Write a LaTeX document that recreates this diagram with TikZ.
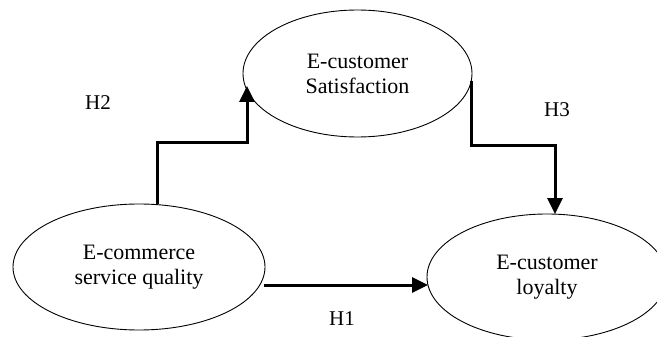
\documentclass[tikz,border=0pt]{standalone}
\usepackage{fontspec}
\setmainfont{Liberation Serif}
\usetikzlibrary{shapes.geometric,arrows.meta,calc}
\begin{document}
\begin{tikzpicture}[x=1pt,y=-1pt,
  construct/.style={draw=black,line width=0.9pt,ellipse,inner sep=0pt,
    align=center,font=\fontsize{22}{25}\selectfont},
  hyp/.style={font=\fontsize{21}{24}\selectfont,inner sep=0pt},
  path arrow/.style={draw=black,line width=3pt,
    -{Triangle[length=16pt,width=15pt]}}]
\useasboundingbox (0,0) rectangle (657,337);
\node[construct,minimum width=229pt,minimum height=127pt] (sat) at (357.5,73.5)
  {E-customer\\Satisfaction};
\node[construct,minimum width=252pt,minimum height=126pt] (sq) at (139,267)
  {E-commerce\\service quality};
\node[construct,minimum width=240pt,minimum height=126pt] (loy) at (547,277)
  {E-customer\\loyalty};
\node[hyp] (h2) at (98,103) {H2};
\node[hyp] (h3) at (557,110) {H3};
\node[hyp] (h1) at (342,319) {H1};
\coordinate (h2s) at ($(sq.north)+(18,0.5)$);
\coordinate (h2a) at (157,143);
\coordinate (h2b) at (247,143);
\coordinate (h2e) at (247,86);
\coordinate (h3s) at (471,81);
\coordinate (h3a) at (471,146);
\coordinate (h3b) at (555,146);
\coordinate (h3e) at (555,214);
\coordinate (h1s) at (264,285);
\coordinate (h1e) at (428,285);
\draw[path arrow,line join=miter] (h2s) -- (h2a) -- (h2b) -- (h2e);
\draw[path arrow,line join=miter] (h3s) -- (h3a) -- (h3b) -- (h3e);
\draw[path arrow] (h1s) -- (h1e);
\end{tikzpicture}
\end{document}
